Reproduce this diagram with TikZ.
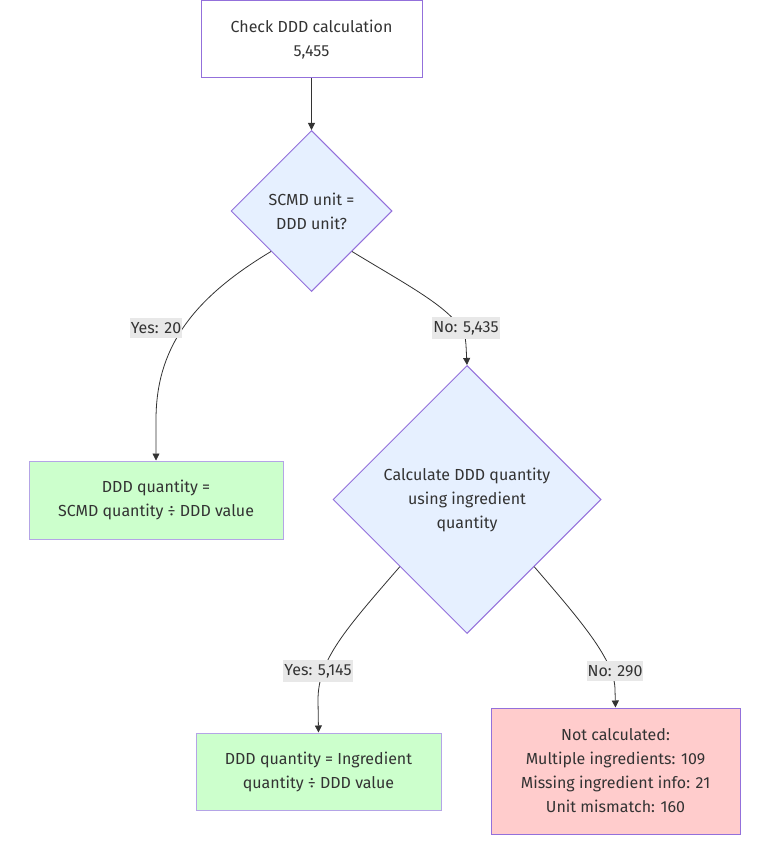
\documentclass[tikz,border=0pt]{standalone}
\usepackage{fontspec}
\setmainfont{Fira Sans}
\usetikzlibrary{shapes.geometric,arrows.meta}
\definecolor{mstroke}{HTML}{9370DB}
\definecolor{gstroke}{HTML}{B4A4E6}
\definecolor{dfill}{HTML}{E6F0FF}
\definecolor{gfill}{HTML}{CCFFCC}
\definecolor{rfill}{HTML}{FFCCCC}
\definecolor{lblbg}{HTML}{E8E8E8}
\definecolor{txt}{HTML}{333333}
\tikzset{
  every node/.style={font=\fontsize{16}{24}\selectfont, text=txt},
  box/.style={draw=mstroke, line width=1pt, align=center, inner sep=0pt},
  dia/.style={diamond, draw=mstroke, fill=dfill, line width=1pt, align=center, inner sep=0pt, aspect=1},
  lbl/.style={fill=lblbg, inner xsep=1pt, inner ysep=4pt, font=\fontsize{16}{18}\selectfont},
  edge/.style={draw=txt, line width=0.8pt, -{Triangle[length=7pt,width=7pt]}},
}
\begin{document}
\begin{tikzpicture}[x=1pt,y=-1pt]
\useasboundingbox (0,0) rectangle (762,842);
\fill[white] (0,0) rectangle (762,842);
\node[box, fill=white, minimum width=221pt, minimum height=77pt] (top) at (311.5,39.5) {Check DDD calculation\\5,455};
\node[dia, minimum width=161pt, minimum height=161pt] (d1) at (311.5,211) {SCMD unit =\\DDD unit?};
\node[box, draw=gstroke, fill=gfill, minimum width=254pt, minimum height=78pt] (g1) at (156,500) {DDD quantity =\\SCMD quantity ÷ DDD value};
\node[dia, minimum width=268pt, minimum height=268pt] (d2) at (467,499.5) {Calculate DDD quantity\\using ingredient\\quantity};
\node[box, draw=gstroke, fill=gfill, minimum width=245pt, minimum height=77pt] (g2) at (318.5,771.5) {DDD quantity = Ingredient\\quantity ÷ DDD value};
\node[box, fill=rfill, minimum width=249pt, minimum height=126pt] (r) at (615.5,771) {Not calculated:\\Multiple ingredients: 109\\Missing ingredient info: 21\\Unit mismatch: 160};

\draw[edge] (top.south) -- (d1.north);

\coordinate (c1) at (156,420);
\draw[edge] (d1.south west) .. controls (190,300) and (156,350) .. (c1) -- (g1.north);
\node[lbl] (l1) at (156,328) {Yes: 20};

\coordinate (c2) at (466,345);
\draw[edge] (d1.south east) .. controls (415,290) and (466,315) .. (c2) -- (d2.north);
\node[lbl] (l2) at (466,328) {No: 5,435};

\coordinate (c3) at (318,700);
\draw[edge] (d2.south west) .. controls (345,630) and (318,660) .. (c3) -- (g2.north);
\node[lbl] (l3) at (318,671) {Yes: 5,145};

\coordinate (c4) at (615,690);
\draw[edge] (d2.south east) .. controls (580,620) and (615,660) .. (c4) -- (r.north);
\node[lbl] (l4) at (615,671) {No: 290};
\end{tikzpicture}
\end{document}
